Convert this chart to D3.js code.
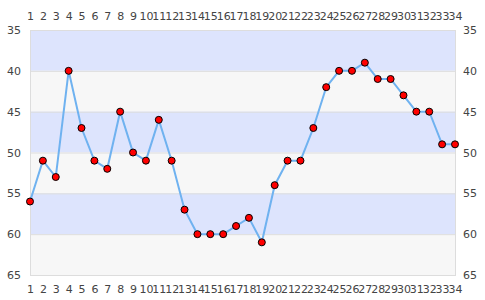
<!DOCTYPE html>
<html>
<head>
<meta charset="utf-8">
<script src="https://cdn.jsdelivr.net/npm/d3@7"></script>
<style>
  body { margin: 0; background: #fff; }
  text { font-family: "DejaVu Sans", sans-serif; font-size: 11px; fill: #444; }
</style>
</head>
<body>
<svg id="chart"></svg>
<script>
// data
const positions = d3.range(1, 35);
const values = [56, 51, 53, 40, 47, 51, 52, 45, 50, 51, 46, 51, 57, 60, 60, 60, 59, 58, 61, 54,
                51, 51, 47, 42, 40, 40, 39, 41, 41, 43, 45, 45, 49, 49];
const yTicks = [35, 40, 45, 50, 55, 60, 65];
const bandColors = ['#dde4fd', '#f7f7f7'];

const width = 485;
const height = 300;
const margin = { top: 30, right: 30, bottom: 25, left: 30 };

const svg = d3.select('#chart')
    .attr('width', width)
    .attr('height', height);

const x = d3.scaleLinear()
    .domain([1, 34])
    .range([margin.left, width - margin.right]);

const y = d3.scaleLinear()
    .domain([35, 65])
    .range([margin.top, height - margin.bottom]);

// alternating bands
const bands = d3.pairs(yTicks);
svg.append('g')
    .selectAll('rect')
    .data(bands)
    .enter().append('rect')
    .attr('x', margin.left)
    .attr('width', x(34) - x(1))
    .attr('y', d => y(d[0]))
    .attr('height', d => y(d[1]) - y(d[0]))
    .attr('fill', (d, i) => bandColors[i % 2]);

// grid lines
svg.append('g')
    .selectAll('line')
    .data(yTicks)
    .enter().append('line')
    .attr('x1', margin.left)
    .attr('x2', width - margin.right)
    .attr('y1', d => y(d) + 0.5)
    .attr('y2', d => y(d) + 0.5)
    .attr('stroke', '#ddd');

// frame
svg.append('rect')
    .attr('x', margin.left + 0.5)
    .attr('y', margin.top + 0.5)
    .attr('width', x(34) - x(1))
    .attr('height', y(65) - y(35))
    .attr('fill', 'none')
    .attr('stroke', '#ddd');

// axes
function styleAxis(g) {
    g.select('.domain').remove();
    g.selectAll('.tick line').remove();
    g.selectAll('text').attr('fill', '#444')
        .style('font-family', '"DejaVu Sans", sans-serif').style('font-size', '11px');
}

svg.append('g')
    .attr('transform', `translate(0,${margin.top - 6})`)
    .call(d3.axisTop(x).tickValues(positions).tickFormat(d3.format('d')).tickSize(0).tickPadding(4))
    .call(styleAxis);

svg.append('g')
    .attr('transform', `translate(0,${height - margin.bottom + 6})`)
    .call(d3.axisBottom(x).tickValues(positions).tickFormat(d3.format('d')).tickSize(0).tickPadding(4))
    .call(styleAxis);

svg.append('g')
    .attr('transform', `translate(${margin.left - 9},0)`)
    .call(d3.axisLeft(y).tickValues(yTicks).tickSize(0).tickPadding(0))
    .call(styleAxis);

svg.append('g')
    .attr('transform', `translate(${width - margin.right + 8},0)`)
    .call(d3.axisRight(y).tickValues(yTicks).tickSize(0).tickPadding(0))
    .call(styleAxis);

// line
const line = d3.line()
    .x((d, i) => x(positions[i]))
    .y(d => y(d));

svg.append('path')
    .datum(values)
    .attr('d', line)
    .attr('fill', 'none')
    .attr('stroke', '#6fb2f0')
    .attr('stroke-width', 2);

// points
svg.append('g')
    .selectAll('circle')
    .data(values)
    .enter().append('circle')
    .attr('cx', (d, i) => x(positions[i]))
    .attr('cy', d => y(d))
    .attr('r', 3.5)
    .attr('fill', '#ff0000')
    .attr('stroke', '#000')
    .attr('stroke-width', 1);
</script>
</body>
</html>
